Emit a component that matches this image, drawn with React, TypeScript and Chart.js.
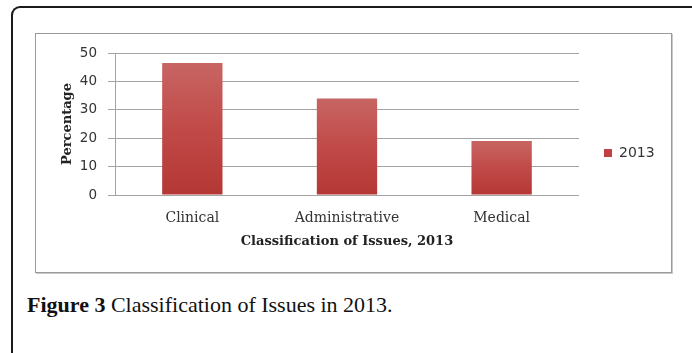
import React, { useEffect, useRef } from "react";
import { Chart, registerables } from "chart.js";

Chart.register(...registerables);

const categories = ["Clinical", "Administrative", "Medical"];
const seriesName = "2013";
const values2013 = [46.5, 34, 19];
const yTicks = [0, 10, 20, 30, 40, 50];
const xTitle = "Classification of Issues, 2013";
const yTitle = "Percentage";
const captionBold = "Figure 3";
const captionText = " Classification of Issues in 2013.";

const GRID = "#a4a4a4";
const TEXT = "#333333";

function barColor(ctx: any) {
  if (ctx.type !== "data") return "#c0504d";
  const chart = ctx.chart;
  const y = chart.scales && chart.scales.y;
  if (!y || !chart.chartArea || !ctx.parsed) return "#c0504d";
  const top = y.getPixelForValue(ctx.parsed.y);
  const bottom = y.getPixelForValue(0);
  const g = chart.ctx.createLinearGradient(0, top, 0, bottom);
  g.addColorStop(0, "#c76563");
  g.addColorStop(0.5, "#c14a48");
  g.addColorStop(1, "#b43735");
  return g;
}

function BarChart() {
  const ref = useRef<HTMLCanvasElement>(null);
  useEffect(() => {
    if (!ref.current) return;
    const chart = new Chart(ref.current, {
      type: "bar",
      data: {
        labels: categories,
        datasets: [
          {
            label: seriesName,
            data: values2013,
            backgroundColor: barColor,
            borderWidth: 0,
            barPercentage: 0.39,
            categoryPercentage: 1,
          },
        ],
      },
      options: {
        responsive: false,
        animation: false,
        devicePixelRatio: 1,
        layout: { padding: { left: 0, top: 18, right: 6.4, bottom: 18 } },
        plugins: {
          tooltip: { enabled: false },
          legend: {
            position: "right",
            labels: {
              boxWidth: 8,
              boxHeight: 8,
              padding: 25,
              color: TEXT,
              font: { family: "DejaVu Sans", size: 14 },
            },
          },
        },
        scales: {
          x: {
            grid: { display: false, drawTicks: false },
            border: { display: true, color: GRID, width: 1 },
            ticks: {
              padding: 15,
              color: TEXT,
              font: { family: "DejaVu Serif", size: 14 },
              maxRotation: 0,
            },
            title: {
              display: true,
              text: xTitle,
              color: "#222",
              font: { family: "DejaVu Serif", size: 13, weight: "bold" },
              padding: { top: 0, bottom: 4.6 },
            },
            afterFit: (s: any) => {
              s.height = 59;
            },
          },
          y: {
            min: 0,
            max: 50,
            afterBuildTicks: (s: any) => {
              s.ticks = yTicks.map((v) => ({ value: v }));
            },
            grid: { color: GRID, lineWidth: 1, drawTicks: true, tickLength: 7 },
            border: { display: true, color: GRID, width: 1 },
            ticks: {
              padding: 11,
              color: TEXT,
              font: { family: "DejaVu Sans", size: 13.5 },
            },
            title: {
              display: true,
              text: yTitle,
              color: "#222",
              font: { family: "DejaVu Serif", size: 13, weight: "bold" },
              padding: { top: 23.7, bottom: 0 },
            },
            afterFit: (s: any) => {
              s.width = 79;
            },
          },
        },
      },
    });
    return () => chart.destroy();
  }, []);
  return <canvas ref={ref} width={635} height={238} style={{ display: "block" }} />;
}

export default function App() {
  return (
    <div
      style={{
        position: "absolute",
        left: 0,
        top: 0,
        width: 692,
        height: 353,
        overflow: "hidden",
        background: "#fff",
      }}
    >
      <div
        style={{
          position: "absolute",
          left: 11,
          top: 6,
          width: 720,
          height: 400,
          borderTop: "2px solid #1a1a1a",
          borderLeft: "2px solid #1a1a1a",
          borderTopLeftRadius: 9,
          boxSizing: "border-box",
        }}
      />
      <div
        style={{
          position: "absolute",
          left: 35,
          top: 33,
          width: 635,
          height: 238,
          border: "1px solid #9a9a9a",
          boxShadow: "1px 1px 0 #c8c8c8",
          background: "#fff",
        }}
      >
        <BarChart />
      </div>
      <div
        style={{
          position: "absolute",
          left: 27,
          top: 292,
          fontFamily: "'Liberation Serif', 'Times New Roman', serif",
          fontSize: 22,
          lineHeight: "normal",
          color: "#111",
          whiteSpace: "pre",
        }}
      >
        <b>{captionBold}</b>
        {captionText}
      </div>
    </div>
  );
}
